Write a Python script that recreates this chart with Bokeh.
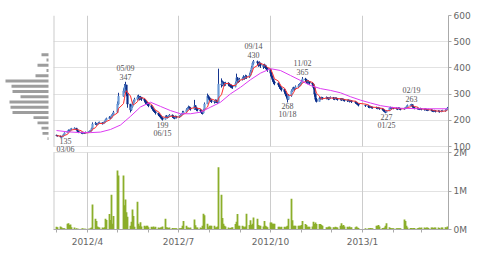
import pandas as pd
from datetime import datetime
from bokeh.plotting import figure
from bokeh.models import (ColumnDataSource, Range1d, FixedTicker, Grid,
                          CustomJSTickFormatter, LabelSet)
from bokeh.layouts import row
from bokeh.embed import file_html
from bokeh.resources import INLINE

# ---------------- data ----------------
holidays = ["2012-03-20", "2012-04-30", "2012-05-03", "2012-05-04", "2012-07-16",
            "2012-09-17", "2012-10-08", "2012-11-23", "2012-12-24", "2012-12-31",
            "2013-01-01", "2013-01-02", "2013-01-03", "2013-01-14", "2013-02-11",
            "2013-03-20"]
first_open = 143
close = [
    142, 140,
    137, 136, 140, 146, 152,
    158, 162, 160, 166, 168,
    170, 164, 158, 155,
    152, 150, 153, 151, 154,
    156, 158, 160, 168, 186,
    188, 184, 187, 190, 191,
    187, 190, 194, 202, 206,
    212, 209, 218, 222, 230,
    262, 292,
    312, 326, 335, 300, 262,
    240, 252, 263, 272, 280,
    288, 291, 283, 288, 281,
    276, 270, 266, 262, 256,
    250, 243, 238, 233, 228,
    222, 218, 213, 209, 204,
    211, 215, 212, 216, 220,
    216, 212, 210, 214, 212,
    215, 219, 224, 228, 232,
    240, 245, 251, 246, 243,
    256, 248, 242, 240,
    236, 231, 228, 240, 262,
    292, 286, 281, 276, 272,
    270, 275, 272, 268, 338,
    336, 345, 341, 338, 342,
    338, 335, 332, 330, 328,
    340, 362, 350, 352, 356,
    360, 365, 362, 368, 366,
    372, 385, 400, 418, 424,
    420, 412, 418, 410,
    405, 410, 402, 398, 394,
    380, 368, 356, 346, 342,
    335, 328, 322, 318,
    310, 300, 292, 280, 294,
    312, 318, 322, 320, 328,
    332, 336, 341, 348, 358,
    355, 350, 345, 348, 342,
    338, 325, 300, 280, 272,
    285, 283, 286, 284,
    287, 284, 282, 285, 287,
    284, 282, 285, 283, 280,
    282, 279, 281, 278, 276,
    275, 277, 273, 275, 271,
    268, 265, 262, 258,
    256,
    252, 250, 251, 249, 248,
    248, 246, 247, 244,
    242, 238, 234, 231, 236,
    246, 248, 245, 247, 246,
    245, 243, 246, 244, 242,
    245, 248, 252, 256,
    258, 260, 252, 248, 246,
    245, 244, 243, 244, 242,
    241, 242, 240, 239, 240,
    238, 236, 235, 236, 234,
    235, 233, 235, 236,
    238, 242, 247,
]
high = [
    145, 143,
    141, 139, 142, 148, 154,
    160, 165, 164, 168, 171,
    173, 170, 163, 159,
    156, 153, 156, 155, 157,
    158, 161, 163, 172, 192,
    194, 190, 190, 194, 195,
    192, 194, 198, 206, 210,
    216, 214, 222, 228, 236,
    272, 305,
    322, 338, 347, 333, 298,
    262, 258, 270, 278, 286,
    295, 298, 292, 293, 289,
    283, 277, 272, 268, 263,
    257, 250, 244, 239, 234,
    228, 224, 219, 214, 210,
    218, 220, 217, 220, 224,
    222, 218, 215, 218, 217,
    219, 224, 228, 236, 236,
    246, 250, 256, 253, 249,
    278, 258, 250, 246,
    242, 237, 234, 244, 268,
    302, 296, 288, 283, 278,
    276, 280, 279, 275, 397,
    360, 352, 348, 345, 347,
    345, 342, 338, 336, 334,
    348, 378, 365, 358, 362,
    366, 372, 369, 374, 372,
    380, 392, 408, 424, 430,
    428, 422, 425, 420,
    414, 416, 412, 405, 402,
    396, 384, 370, 358, 350,
    344, 337, 330, 325,
    320, 312, 302, 292, 300,
    318, 325, 328, 327, 333,
    338, 342, 346, 354, 365,
    362, 358, 352, 353, 350,
    345, 340, 326, 302, 285,
    290, 288, 290, 289,
    291, 289, 287, 289, 291,
    289, 286, 288, 287, 285,
    285, 284, 284, 282, 279,
    279, 280, 278, 278, 276,
    272, 269, 266, 262,
    259,
    257, 254, 255, 253, 252,
    252, 250, 251, 248,
    246, 243, 239, 236, 239,
    249, 252, 250, 251, 250,
    249, 248, 250, 249, 247,
    248, 251, 256, 260,
    261, 263, 260, 253, 250,
    249, 248, 247, 248, 246,
    245, 246, 244, 243, 244,
    242, 240, 239, 240, 238,
    239, 237, 239, 240,
    242, 246, 251,
]
low = [
    139, 138,
    135, 135, 136, 140, 146,
    153, 157, 156, 159, 163,
    165, 162, 155, 151,
    149, 147, 148, 148, 150,
    152, 154, 156, 158, 170,
    182, 180, 182, 185, 187,
    184, 186, 189, 194, 200,
    205, 204, 208, 215, 220,
    228, 258,
    290, 305, 318, 292, 248,
    230, 236, 248, 258, 268,
    276, 281, 276, 278, 274,
    268, 262, 259, 255, 250,
    244, 237, 232, 228, 222,
    216, 212, 207, 203, 199,
    203, 208, 207, 209, 212,
    209, 206, 204, 207, 207,
    209, 213, 217, 221, 226,
    230, 238, 242, 240, 237,
    240, 240, 235, 234,
    229, 224, 222, 226, 238,
    262, 278, 274, 270, 266,
    264, 266, 266, 262, 272,
    325, 330, 333, 330, 332,
    330, 328, 324, 322, 320,
    326, 338, 342, 343, 346,
    352, 356, 355, 358, 358,
    362, 368, 380, 398, 412,
    410, 404, 406, 400,
    396, 400, 395, 390, 385,
    368, 360, 348, 338, 334,
    328, 320, 315, 310,
    302, 292, 284, 268, 278,
    290, 308, 314, 313, 318,
    324, 328, 332, 338, 346,
    346, 342, 338, 340, 336,
    330, 318, 290, 272, 268,
    272, 278, 280, 279,
    280, 280, 277, 279, 282,
    278, 277, 280, 278, 275,
    276, 274, 276, 273, 271,
    270, 272, 268, 270, 266,
    263, 260, 257, 253,
    251,
    247, 246, 247, 245, 244,
    243, 242, 243, 240,
    237, 233, 230, 227, 230,
    236, 243, 241, 243, 242,
    241, 239, 242, 240, 238,
    240, 243, 247, 251,
    254, 255, 249, 245, 242,
    241, 240, 239, 240, 238,
    237, 238, 236, 235, 236,
    234, 232, 231, 232, 230,
    231, 229, 231, 232,
    233, 236, 240,
]
volume_m = [
    0.07, 0.06,
    0.08, 0.06, 0.03, 0.03, 0.03,
    0.15, 0.16, 0.12, 0.13, 0.06,
    0.05, 0.03, 0.02, 0.02,
    0.02, 0.03, 0.02, 0.02, 0.02,
    0.02, 0.02, 0.03, 0.05, 0.65,
    0.28, 0.22, 0.08, 0.06, 0.05,
    0.05, 0.04, 0.06, 0.28, 0.25,
    0.40, 0.25, 0.90, 0.15, 0.35,
    1.53, 1.40,
    1.40, 0.63, 0.78, 0.45, 0.33,
    0.10, 0.20, 0.52, 0.35, 0.07,
    0.72, 0.15, 0.10, 0.19, 0.08,
    0.10, 0.08, 0.10, 0.10, 0.06,
    0.07, 0.06, 0.08, 0.05, 0.07,
    0.05, 0.04, 0.05, 0.06, 0.08,
    0.28, 0.06, 0.05, 0.04, 0.05,
    0.04, 0.03, 0.03, 0.03, 0.03,
    0.03, 0.03, 0.04, 0.10, 0.22,
    0.10, 0.05, 0.05, 0.04, 0.05,
    0.26, 0.11, 0.05, 0.05,
    0.05, 0.04, 0.10, 0.41, 0.37,
    0.15, 0.06, 0.10, 0.10, 0.10,
    0.10, 0.05, 0.06, 0.08, 1.62,
    0.90, 0.30, 0.15, 0.10, 0.08,
    0.05, 0.03, 0.04, 0.05, 0.06,
    0.14, 0.20, 0.40, 0.10, 0.10,
    0.10, 0.08, 0.06, 0.08, 0.41,
    0.12, 0.24, 0.12, 0.15, 0.31,
    0.28, 0.12, 0.10, 0.10,
    0.08, 0.22, 0.10, 0.08, 0.06,
    0.18, 0.18, 0.15, 0.15, 0.15,
    0.07, 0.07, 0.06, 0.07,
    0.07, 0.06, 0.08, 0.10, 0.28,
    0.80, 0.24, 0.10, 0.10, 0.10,
    0.10, 0.10, 0.10, 0.12, 0.22,
    0.14, 0.12, 0.07, 0.07, 0.07,
    0.08, 0.20, 0.14, 0.18, 0.14,
    0.14, 0.14, 0.12, 0.10,
    0.06, 0.05, 0.07, 0.08, 0.06,
    0.06, 0.05, 0.07, 0.06, 0.05,
    0.10, 0.16, 0.10, 0.12, 0.08,
    0.07, 0.06, 0.08, 0.05, 0.06,
    0.06, 0.08, 0.05, 0.04,
    0.03,
    0.03, 0.03, 0.04, 0.03, 0.03,
    0.10, 0.10, 0.12, 0.08,
    0.04, 0.04, 0.05, 0.10, 0.16,
    0.06, 0.04, 0.03, 0.03, 0.03,
    0.03, 0.03, 0.03, 0.03, 0.03,
    0.26, 0.22, 0.10, 0.05,
    0.04, 0.04, 0.03, 0.04, 0.04,
    0.03, 0.04, 0.05, 0.04, 0.05,
    0.05, 0.04, 0.05, 0.05, 0.04,
    0.05, 0.05, 0.04, 0.05, 0.05,
    0.05, 0.04, 0.05, 0.05,
    0.06, 0.05, 0.08,
]
# long moving average (magenta)
ma_long_dates = ["2012-03-01", "2012-03-12", "2012-03-25", "2012-04-04", "2012-04-14",
                 "2012-04-24", "2012-05-04", "2012-05-14", "2012-05-24", "2012-06-03",
                 "2012-06-13", "2012-06-23", "2012-07-03", "2012-07-13", "2012-07-23",
                 "2012-08-02", "2012-08-12", "2012-08-22", "2012-09-01", "2012-09-11",
                 "2012-09-21", "2012-10-01", "2012-10-11", "2012-10-21", "2012-10-31",
                 "2012-11-10", "2012-11-20", "2012-11-30", "2012-12-10", "2012-12-20",
                 "2012-12-30", "2013-01-09", "2013-01-19", "2013-01-29", "2013-02-08",
                 "2013-02-28", "2013-03-27"]
ma_long_vals = [161, 156, 153, 153, 155, 165, 182, 215, 251, 269,
                253, 237, 225, 225, 231, 250, 269, 301, 326, 355,
                380, 397, 390, 371, 352, 333, 321, 314, 305, 290,
                277, 266, 256, 250, 246, 244, 244]
# price distribution (left histogram)
prof_price = [450, 430, 410, 390, 370, 350, 330, 310, 290, 270, 250, 230, 210, 190, 170, 150, 130]
prof_amount = [7, 2, 11, 2, 13, 43, 37, 36, 28, 39, 38, 36, 15, 11, 7, 6, 1]
# marked highs / lows
ann_dates = ["2012-03-06", "2012-05-09", "2012-06-15", "2012-09-14",
             "2012-10-18", "2012-11-02", "2013-01-25", "2013-02-19"]
ann_vals = [135, 347, 199, 430, 268, 365, 227, 263]
ann_kind = ["low", "high", "low", "high", "low", "high", "low", "high"]
price_ticks = [100, 200, 300, 400, 500, 600]
vol_ticks = [0, 1, 2]
quarter_ticks = ["2012-04-01", "2012-07-01", "2012-10-01", "2013-01-01"]
month_ticks = ["2012-03-01", "2012-05-01", "2012-06-01", "2012-08-01", "2012-09-01",
               "2012-11-01", "2012-12-01", "2013-02-01", "2013-03-01"]

# ---------------- build ----------------
dates = [d for d in pd.bdate_range("2012-03-01", "2013-03-27")
         if d.strftime("%Y-%m-%d") not in holidays]
n = len(dates)
if not (len(close) == len(high) == len(low) == len(volume_m) == n):
    raise ValueError(f"len mismatch dates={n} close={len(close)} high={len(high)} "
                     f"low={len(low)} vol={len(volume_m)}")

opens = [first_open] + close[:-1]
hi = [max(h, o, c) for h, o, c in zip(high, opens, close)]
lo = [min(l, o, c) for l, o, c in zip(low, opens, close)]
ma_short = pd.Series(close).rolling(5, min_periods=1).mean().tolist()

UP_FILL = "#6b9ad6"
DOWN_FILL = "#0d2f8c"
WICK = "#16358f"
colors = [UP_FILL if c >= o else DOWN_FILL for o, c in zip(opens, close)]

src = ColumnDataSource(dict(
    date=dates, top=[max(o, c) for o, c in zip(opens, close)],
    bot=[min(o, c) for o, c in zip(opens, close)], hi=hi, lo=lo,
    color=colors, ma=ma_short, vol=volume_m))

DAY = 86400000
def ms(s):
    return pd.Timestamp(s).value // 10**6

# geometry: one frame holds both panels (price on top, volume below)
FRAME_W, FRAME_H = 395, 214
PRICE_H, VOL_H = 131, 77
P_TOP = 600
P_SPAN = (P_TOP - 100) * FRAME_H / PRICE_H          # price units across whole frame
P0 = P_TOP - P_SPAN                                   # price-coordinate at frame bottom
V1 = 2 * FRAME_H / VOL_H                              # volume units across whole frame
def pe(vm):                                           # volume value -> price coordinate
    return P0 + vm / V1 * P_SPAN

xr = Range1d(datetime(2012, 2, 27), datetime(2013, 3, 28))
yr = Range1d(P0, P_TOP)
FONT = "DejaVu Sans"
TXT = "#666666"
GRID_SOLID = "#cccccc"

p = figure(x_axis_type="datetime", x_range=xr, y_range=yr,
           frame_width=FRAME_W, frame_height=FRAME_H,
           min_border_left=0, min_border_right=32, min_border_top=15, min_border_bottom=26,
           y_axis_location="right", output_backend="svg", toolbar_location=None)
p.extra_y_ranges = {"vol": Range1d(0, V1)}
p.grid.visible = False
p.outline_line_color = None

all_ticks = [pe(t) for t in vol_ticks] + price_ticks
p.add_layout(Grid(dimension=1, ticker=FixedTicker(ticks=all_ticks),
                  grid_line_color="#c4c4c4", grid_line_dash="1 1"))

qd = [pd.Timestamp(q) for q in quarter_ticks]
x_left = [pd.Timestamp(xr.start)]
# vertical quarter lines and left frame edges, drawn per panel
p.segment(x0=qd, y0=[price_ticks[0]] * len(qd), x1=qd, y1=[price_ticks[-1]] * len(qd),
          line_color=GRID_SOLID, line_width=1)
p.segment(x0=qd, y0=[vol_ticks[0]] * len(qd), x1=qd, y1=[vol_ticks[-1]] * len(qd),
          line_color=GRID_SOLID, line_width=1, y_range_name="vol")
p.segment(x0=x_left, y0=[price_ticks[0]], x1=x_left, y1=[price_ticks[-1]],
          line_color=GRID_SOLID, line_width=2)
p.segment(x0=x_left, y0=[vol_ticks[0]], x1=x_left, y1=[vol_ticks[-1]],
          line_color=GRID_SOLID, line_width=2, y_range_name="vol")

# volume
p.vbar(x="date", width=DAY * 1.8, top="vol", bottom=0, source=src,
       fill_color="#8bae2a", line_color=None, y_range_name="vol")

# candles + averages
p.segment(x0="date", y0="lo", x1="date", y1="hi", source=src, line_color=WICK, line_width=1)
p.vbar(x="date", width=DAY * 1.5, top="top", bottom="bot", source=src,
       fill_color="color", line_color="color", line_width=0.6)
p.line(x="date", y="ma", source=src, line_color="#ff2a2a", line_width=1)
p.line(x=[pd.Timestamp(d) for d in ma_long_dates], y=ma_long_vals,
       line_color="#dd3cf2", line_width=1)

# right axis (price ticks + volume ticks on one axis line)
ya = p.yaxis[0]
ya.ticker = FixedTicker(ticks=all_ticks)
ya.formatter = CustomJSTickFormatter(
    args=dict(p0=P0, step=pe(1) - P0, lim=price_ticks[0] - 10),
    code="if (tick < lim) { return Math.round((tick - p0) / step) + 'M'; }"
         " return Math.round(tick).toString();")
xa = p.xaxis[0]
xa.ticker = FixedTicker(ticks=[ms(q) for q in quarter_ticks],
                        minor_ticks=[ms(m) for m in month_ticks])
xa.formatter = CustomJSTickFormatter(
    code="const d = new Date(tick); return d.getUTCFullYear() + '/' + (d.getUTCMonth() + 1);")
for ax in (ya, xa):
    ax.axis_line_color = "#aaaaaa"
    ax.major_tick_line_color = "#aaaaaa"
    ax.minor_tick_line_color = "#aaaaaa"
    ax.major_tick_out = 3
    ax.major_tick_in = 0
    ax.minor_tick_in = 0
    ax.major_label_text_font = FONT
    ax.major_label_text_font_size = "9px"
    ax.major_label_text_color = TXT
ya.minor_tick_out = 0
ya.major_label_standoff = 2
xa.minor_tick_out = 3
xa.major_label_standoff = 4

# annotations of highs / lows
hx, hv, hd, lx, lv, ld = [], [], [], [], [], []
for d, v, k in zip(ann_dates, ann_vals, ann_kind):
    t = pd.Timestamp(d)
    if k == "high":
        hx.append(t); hv.append(v); hd.append(t.strftime("%m/%d"))
    else:
        lx.append(t); lv.append(v); ld.append(t.strftime("%m/%d"))
# keep the first low label inside the frame's left edge
l_off = [4 if (t - pd.Timestamp(xr.start)).days < 12 else 0 for t in lx]
hsrc = ColumnDataSource(dict(x=hx, y=hv, v=[str(v) for v in hv], d=hd))
lsrc = ColumnDataSource(dict(x=lx, y=lv, v=[str(v) for v in lv], d=ld, xo=l_off))
lab_style = dict(text_font=FONT, text_font_size="8px", text_color="#555555", text_align="center")
p.add_layout(LabelSet(x="x", y="y", text="v", source=hsrc, y_offset=2, text_baseline="bottom", **lab_style))
p.add_layout(LabelSet(x="x", y="y", text="d", source=hsrc, y_offset=9, text_baseline="bottom", **lab_style))
p.add_layout(LabelSet(x="x", y="y", text="v", source=lsrc, x_offset="xo", y_offset=-1, text_baseline="top", **lab_style))
p.add_layout(LabelSet(x="x", y="y", text="d", source=lsrc, x_offset="xo", y_offset=-8, text_baseline="top", **lab_style))

# left price-distribution panel, sharing the price scale
pf = figure(x_range=Range1d(48, -5), y_range=yr, frame_width=53, frame_height=FRAME_H,
            min_border_left=0, min_border_right=0, min_border_top=15, min_border_bottom=26,
            x_axis_location=None, y_axis_location=None,
            output_backend="svg", toolbar_location=None)
pf.grid.visible = False
pf.outline_line_color = None
pf.hbar(y=prof_price, left=0, right=prof_amount, height=11, fill_color="#9d9d9d", line_color=None)

layout = row(pf, p)
open("out.html", "w").write(file_html(layout, INLINE))
